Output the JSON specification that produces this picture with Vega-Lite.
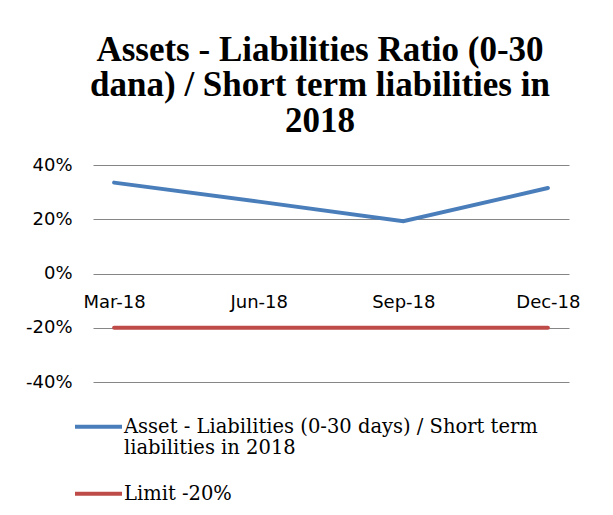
{
  "$schema": "https://vega.github.io/schema/vega-lite/v6.json",
  "width": 476,
  "height": 217,
  "autosize": {"type": "none"},
  "padding": {"left": 93, "top": 165, "right": 44, "bottom": 133},
  "background": "white",
  "title": {
    "text": ["Assets - Liabilities Ratio (0-30", "dana) / Short term liabilities in", "2018"],
    "font": "Liberation Serif",
    "fontWeight": "bold",
    "fontSize": 35,
    "lineHeight": 35.6,
    "color": "#000000",
    "anchor": "middle",
    "dx": -11,
    "offset": 17
  },
  "data": {
    "values": [
      {"month": "Mar-18", "value": 0.335, "series": "Asset - Liabilities (0-30 days) / Short term liabilities in 2018"},
      {"month": "Jun-18", "value": 0.265, "series": "Asset - Liabilities (0-30 days) / Short term liabilities in 2018"},
      {"month": "Sep-18", "value": 0.193, "series": "Asset - Liabilities (0-30 days) / Short term liabilities in 2018"},
      {"month": "Dec-18", "value": 0.315, "series": "Asset - Liabilities (0-30 days) / Short term liabilities in 2018"},
      {"month": "Mar-18", "value": -0.2, "series": "Limit -20%"},
      {"month": "Jun-18", "value": -0.2, "series": "Limit -20%"},
      {"month": "Sep-18", "value": -0.2, "series": "Limit -20%"},
      {"month": "Dec-18", "value": -0.2, "series": "Limit -20%"}
    ]
  },
  "mark": {"type": "line", "strokeWidth": 4, "strokeCap": "round"},
  "encoding": {
    "x": {
      "field": "month",
      "type": "ordinal",
      "sort": ["Mar-18", "Jun-18", "Sep-18", "Dec-18"],
      "scale": {"type": "point", "padding": 0.146},
      "axis": {
        "title": null,
        "offset": -108.5,
        "domain": false,
        "ticks": false,
        "grid": false,
        "labelAngle": 0,
        "labelFont": "DejaVu Sans",
        "labelFontSize": 18,
        "labelColor": "#000000",
        "labelPadding": 20
      }
    },
    "y": {
      "field": "value",
      "type": "quantitative",
      "scale": {"domain": [-0.4, 0.4]},
      "axis": {
        "title": null,
        "format": ".0%",
        "labelExpr": "replace(datum.label, '−', '-')",
        "values": [-0.4, -0.2, 0, 0.2, 0.4],
        "domain": false,
        "ticks": false,
        "labelFont": "DejaVu Sans",
        "labelFontSize": 18,
        "labelColor": "#000000",
        "labelPadding": 21,
        "gridColor": "#868686",
        "gridWidth": 1,
        "gridOpacity": 1
      }
    },
    "color": {
      "field": "series",
      "type": "nominal",
      "scale": {
        "domain": ["Asset - Liabilities (0-30 days) / Short term liabilities in 2018", "Limit -20%"],
        "range": ["#4A7EBB", "#BE4B48"]
      },
      "legend": {
        "title": null,
        "orient": "none",
        "legendX": -20,
        "legendY": 242,
        "direction": "vertical",
        "symbolType": "M-1,-0.25H1",
        "symbolSize": 2209,
        "symbolStrokeWidth": 4,
        "labelFont": "DejaVu Serif",
        "labelFontSize": 19.5,
        "labelColor": "#000000",
        "labelLimit": 0,
        "labelOffset": 0,
        "labelBaseline": "alphabetic",
        "labelLineHeight": 27,
        "rowPadding": 16,
        "labelExpr": "datum.value == 'Limit -20%' ? datum.value : ['Asset - Liabilities (0-30 days) / Short term', 'liabilities in 2018']"
      }
    }
  },
  "config": {"view": {"stroke": null}}
}
